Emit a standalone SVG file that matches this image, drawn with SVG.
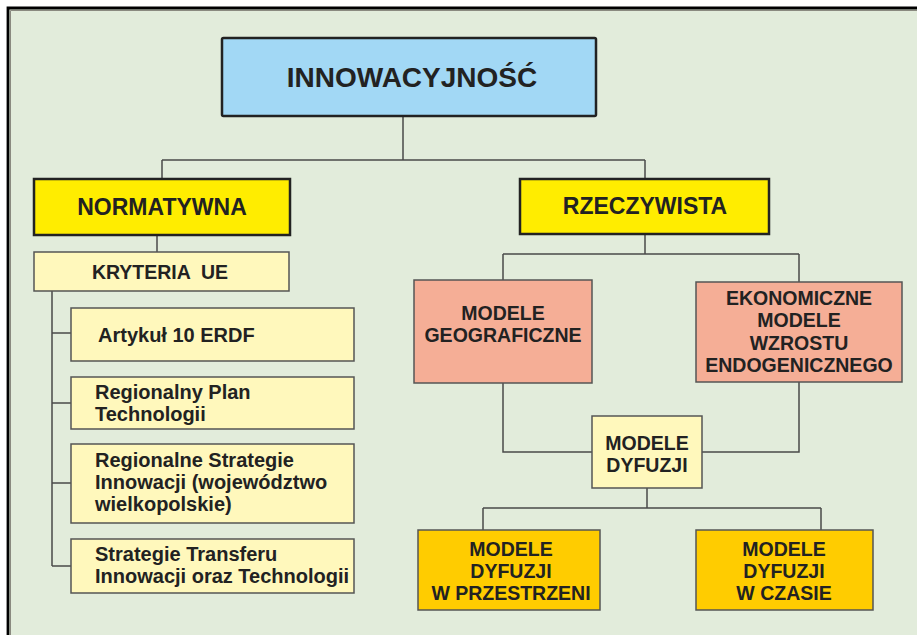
<svg xmlns="http://www.w3.org/2000/svg" width="917" height="635" viewBox="0 0 917 635">
<style>
text{font-family:"Liberation Sans",Arial,sans-serif;font-weight:bold;fill:#222}
.c{text-anchor:middle}
.l{text-anchor:start}
.main{stroke:#222;stroke-width:2.5}
.sub{stroke:#555;stroke-width:1.5}
.conn{fill:none;stroke:#4a4a4a;stroke-width:1.5}
</style>
<rect x="0" y="0" width="917" height="635" fill="#ffffff"/>
<rect x="8" y="8" width="920" height="640" fill="#E2ECDB"/>
<path d="M8,650 V8 H917" fill="none" stroke="#000" stroke-width="2.8"/>
<path d="M10.5,650 V10.5 H917" fill="none" stroke="#8a8a80" stroke-width="1"/>

<g id="connectors" class="conn">
<path d="M403,116 V160 M162,160 H645 M162,160 V179 M645,160 V179"/>
<path d="M157,235 V252"/>
<path d="M52,291 V566 M52,333 H71 M52,403 H71 M52,483 H71 M52,566 H71"/>
<path d="M645,234 V254 M503,254 H799 M503,254 V280 M799,254 V282"/>
<path d="M503,383 V452 H592 M799,382 V452 H702"/>
<path d="M647,488 V508 M483,508 H821 M483,508 V530 M821,508 V530"/>
</g>

<g id="innowacyjnosc">
<rect x="222" y="38" width="374" height="78" fill="#A2D8F5" class="main" rx="1.5"/>
<text x="412" y="87" class="c" font-size="28">INNOWACYJNOŚĆ</text>
</g>

<g id="normatywna">
<rect x="34" y="179" width="256" height="56" fill="#FFED00" class="main"/>
<text x="162" y="215" class="c" font-size="23">NORMATYWNA</text>
</g>

<g id="rzeczywista">
<rect x="520" y="179" width="249" height="55" fill="#FFED00" class="main"/>
<text x="645" y="214" class="c" font-size="23">RZECZYWISTA</text>
</g>

<g id="kryteria">
<rect x="34" y="252" width="255" height="39" fill="#FFF8BC" class="sub"/>
<text x="160" y="279" class="c" font-size="19.5" xml:space="preserve">KRYTERIA  UE</text>
</g>

<g id="artykul">
<rect x="71" y="308" width="283" height="53" fill="#FFF8BC" class="sub"/>
<text x="98" y="342" class="l" font-size="20">Artykuł 10 ERDF</text>
</g>

<g id="regionalny-plan">
<rect x="71" y="377" width="283" height="52" fill="#FFF8BC" class="sub"/>
<text x="95" class="l" font-size="20"><tspan x="95" y="399">Regionalny Plan</tspan><tspan x="95" y="421">Technologii</tspan></text>
</g>

<g id="regionalne-strategie">
<rect x="71" y="444" width="283" height="79" fill="#FFF8BC" class="sub"/>
<text x="95" class="l" font-size="20"><tspan x="95" y="467">Regionalne Strategie</tspan><tspan x="95" y="489">Innowacji (województwo</tspan><tspan x="95" y="511">wielkopolskie)</tspan></text>
</g>

<g id="strategie-transferu">
<rect x="71" y="539" width="283" height="54" fill="#FFF8BC" class="sub"/>
<text x="95" class="l" font-size="20"><tspan x="95" y="561">Strategie Transferu</tspan><tspan x="95" y="583">Innowacji oraz Technologii</tspan></text>
</g>

<g id="modele-geograficzne">
<rect x="414" y="280" width="178" height="103" fill="#F5AE96" class="sub"/>
<text class="c" font-size="19.5"><tspan x="503" y="320">MODELE</tspan><tspan x="503" y="342">GEOGRAFICZNE</tspan></text>
</g>

<g id="ekonomiczne">
<rect x="696" y="282" width="206" height="100" fill="#F5AE96" class="sub"/>
<text class="c" font-size="19.5"><tspan x="799" y="305">EKONOMICZNE</tspan><tspan x="799" y="327">MODELE</tspan><tspan x="799" y="350">WZROSTU</tspan><tspan x="799" y="372">ENDOGENICZNEGO</tspan></text>
</g>

<g id="modele-dyfuzji">
<rect x="592" y="416" width="110" height="72" fill="#FFF8BC" class="sub"/>
<text class="c" font-size="19.5"><tspan x="647" y="450">MODELE</tspan><tspan x="647" y="472">DYFUZJI</tspan></text>
</g>

<g id="dyfuzja-przestrzen">
<rect x="418" y="530" width="182" height="80" fill="#FFCC00" class="sub"/>
<text class="c" font-size="19.5"><tspan x="511" y="556">MODELE</tspan><tspan x="511" y="578">DYFUZJI</tspan><tspan x="511" y="600">W PRZESTRZENI</tspan></text>
</g>

<g id="dyfuzja-czas">
<rect x="696" y="530" width="177" height="80" fill="#FFCC00" class="sub"/>
<text class="c" font-size="19.5"><tspan x="784" y="556">MODELE</tspan><tspan x="784" y="578">DYFUZJI</tspan><tspan x="784" y="600">W CZASIE</tspan></text>
</g>
</svg>
